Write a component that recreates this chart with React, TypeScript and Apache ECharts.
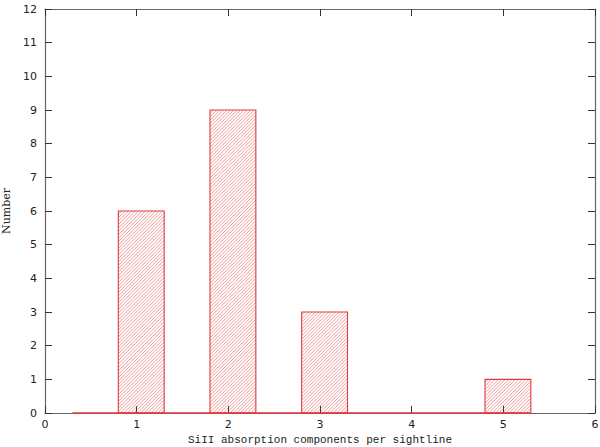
import React, { useEffect, useRef } from "react";
import * as echarts from "echarts";

// Histogram bins: [left edge, right edge, count]
const binStarts = [0.3, 0.8, 1.3, 1.8, 2.3, 2.8, 3.3, 3.8, 4.3, 4.8];
const binEnds = [0.8, 1.3, 1.8, 2.3, 2.8, 3.3, 3.8, 4.3, 4.8, 5.3];
const counts = [0, 6, 0, 9, 0, 3, 0, 0, 0, 1];

const xTitle = "SiII absorption components per sightline";
const yTitle = "Number";

const RED = "#e03a3a";
const AXIS = "#666";

export default function App() {
  const ref = useRef<HTMLDivElement>(null);

  useEffect(() => {
    if (!ref.current) return;
    const chart = echarts.init(ref.current, null, { renderer: "svg" });
    const data = binStarts.map((s, i) => [s, binEnds[i], counts[i]]);

    const axisCommon = {
      type: "value" as const,
      axisLine: { show: true, onZero: false, lineStyle: { color: AXIS, width: 1.2 } },
      axisTick: { show: true, inside: true, length: 7, lineStyle: { color: "#333" } },
      splitLine: { show: false },
    };

    chart.setOption({
      animation: false,
      backgroundColor: "#fff",
      grid: { left: 45, right: 5, top: 9, bottom: 34, containLabel: false, outerBoundsMode: "none" },
      xAxis: [
        {
          ...axisCommon,
          position: "bottom",
          min: 0,
          max: 6,
          interval: 1,
          axisLabel: { color: "#222", fontSize: 11, fontFamily: "DejaVu Sans", margin: 6 },
          name: xTitle,
          nameLocation: "middle",
          nameGap: 20,
          nameTextStyle: { color: "#222", fontSize: 11, fontFamily: "Liberation Mono" },
        },
        {
          ...axisCommon,
          position: "top",
          min: 0,
          max: 6,
          interval: 1,
          axisLabel: { show: false },
        },
      ],
      yAxis: [
        {
          ...axisCommon,
          position: "left",
          min: 0,
          max: 12,
          interval: 1,
          axisLabel: { color: "#222", fontSize: 11, fontFamily: "DejaVu Sans", margin: 8 },
          name: yTitle,
          nameLocation: "middle",
          nameGap: 33,
          nameTextStyle: { color: "#222", fontSize: 11, fontFamily: "DejaVu Serif" },
        },
        {
          ...axisCommon,
          position: "right",
          min: 0,
          max: 12,
          interval: 1,
          axisLabel: { show: false },
        },
      ],
      series: [
        {
          type: "custom",
          xAxisIndex: 0,
          yAxisIndex: 0,
          data,
          clip: false,
          renderItem: (params: any, api: any) => {
            const x0 = api.value(0);
            const x1 = api.value(1);
            const c = api.value(2);
            const pTL = api.coord([x0, c]);
            const pBR = api.coord([x1, 0]);
            const L = pTL[0], T = pTL[1], R = pBR[0], B = pBR[1];
            const children: any[] = [];
            children.push({
              type: "line",
              shape: { x1: L, y1: B, x2: R, y2: B },
              style: { stroke: RED, lineWidth: 1.3 },
            });
            if (B - T > 0.5) {
              const step = 3.4;
              for (let k = L + T; k <= R + B; k += step) {
                const xa = Math.max(L, k - B);
                const xb = Math.min(R, k - T);
                if (xb - xa > 0.2) {
                  children.push({
                    type: "line",
                    shape: { x1: xa, y1: k - xa, x2: xb, y2: k - xb },
                    style: { stroke: RED, lineWidth: 0.6, opacity: 0.85 },
                  });
                }
              }
              children.push({
                type: "rect",
                shape: { x: L, y: T, width: R - L, height: B - T },
                style: { fill: "none", stroke: RED, lineWidth: 1.1 },
              });
            }
            return { type: "group", children };
          },
        },
      ],
    });
    return () => chart.dispose();
  }, []);

  return (
    <div
      ref={ref}
      style={{ position: "absolute", left: 0, top: 0, width: 600, height: 447 }}
    />
  );
}
